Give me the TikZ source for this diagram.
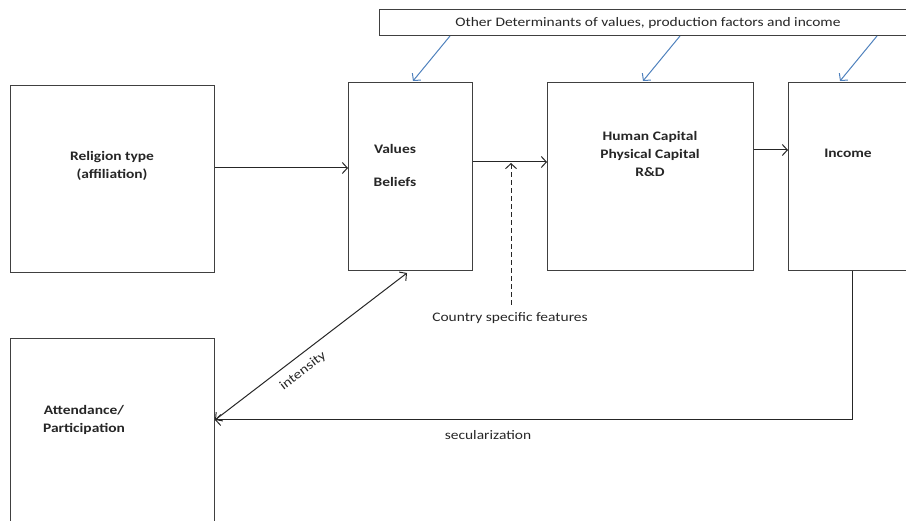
\documentclass[tikz,border=0pt]{standalone}
\usepackage{fontspec}
\setmainfont{Carlito}[FakeStretch=1.19]
\usetikzlibrary{arrows.meta}
\definecolor{boxgray}{HTML}{404040}
\definecolor{officeblue}{HTML}{4F81BD}
\tikzset{
  box/.style={draw=boxgray, line width=1pt, rectangle, inner sep=0pt, anchor=north west},
  lbl/.style={font=\bfseries\fontsize{13}{18}\selectfont, align=center, inner sep=0pt, text=black!85},
  plain/.style={font=\fontsize{13}{18}\selectfont, inner sep=0pt, text=black!85},
  arr/.style={draw=black!85, line width=1pt, -{Straight Barb[length=5pt,width=11pt]}},
  blu/.style={draw=officeblue, line width=1pt, -{Straight Barb[length=5pt,width=11pt]}},
}
\begin{document}
\begin{tikzpicture}[x=1pt,y=-1pt]
\useasboundingbox (0,0) rectangle (906,521);
\begin{scope}
\clip (0,0) rectangle (906,521);
% boxes
\node[box, minimum width=204pt, minimum height=187pt] (rel) at (10,85) {};
\node[box, minimum width=124pt, minimum height=188pt] (val) at (348,82) {};
\node[box, minimum width=206pt, minimum height=188pt] (hc) at (547,82) {};
\node[box, minimum width=130pt, minimum height=188pt] (inc) at (788,82) {};
\node[box, minimum width=204pt, minimum height=200pt] (att) at (10,338) {};
\node[box, minimum width=540pt, minimum height=26pt] (oth) at (379,9) {};
% labels
\node[lbl] (reltext) at (112,166) {Religion type\\(affiliation)};
\node[lbl] (valtext) at (395,149) {Values};
\node[lbl] (beltext) at (395,182) {Beliefs};
\node[lbl] (hctext) at (650,154) {Human Capital\\Physical Capital\\R\&D};
\node[lbl] (inctext) at (848,153) {Income};
\node[lbl] (atttext) at (84,420) {Attendance/\\Participation};
\node[plain] (othtext) at (648,23) {Other Determinants of values, production factors and income};
\node[plain] (csf) at (510,318) {Country specific features};
\node[plain] (sec) at (488,435) {secularization};
\node[plain, rotate=37.4] (inttext) at (303,371) {intensity};
% coordinates
\coordinate (dashstart) at (511,305);
\coordinate (dashend) at (511,163);
\coordinate (secorner) at (852,420);
\coordinate (attin) at (215,420);
\coordinate (valbot) at (407,273);
% arrows
\draw[arr] (rel.east |- 0,168) -- (val.west |- 0,168);
\draw[arr] (val.east |- 0,162) -- (hc.west |- 0,162);
\draw[arr] (hc.east |- 0,150) -- (inc.west |- 0,150);
\draw[arr, dash pattern=on 5pt off 3pt] (dashstart) -- (dashend);
\draw[draw=black!85, line width=1pt, {Straight Barb[length=5pt,width=11pt]}-{Straight Barb[length=5pt,width=11pt]}] (attin) -- (valbot);
\draw[arr] (inc.south -| secorner) -- (secorner) -- (attin);
% blue arrows
\draw[blu] (oth.south -| 450,0) -- (413,81);
\draw[blu] (oth.south -| 680,0) -- (643,81);
\draw[blu] (oth.south -| 877,0) -- (840,81);
\end{scope}
\end{tikzpicture}
\end{document}
